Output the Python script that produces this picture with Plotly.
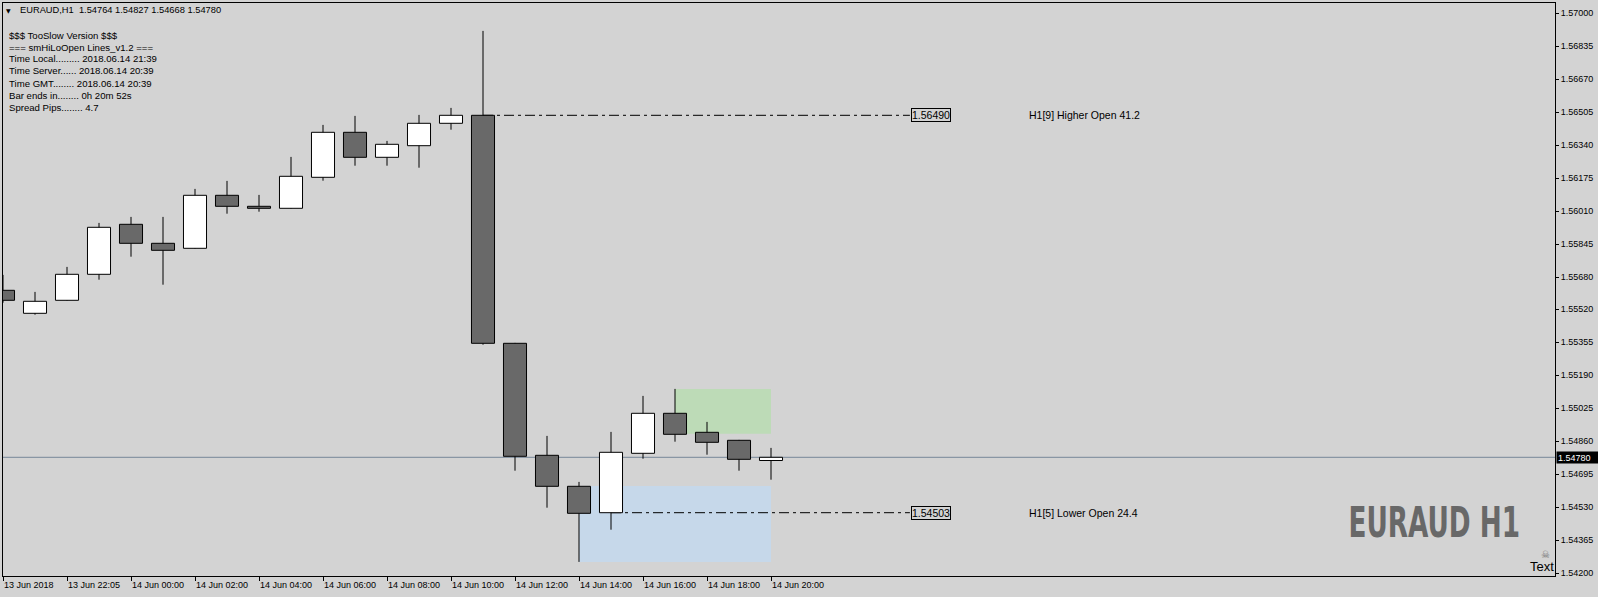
import plotly.graph_objects as go

# ---------------- data ----------------
bar_index = list(range(25))
opens  = [1.55615, 1.55500, 1.55565, 1.55695, 1.55945, 1.55850, 1.55825, 1.56090, 1.56035, 1.56025,
          1.56180, 1.56405, 1.56280, 1.56338, 1.56450, 1.56490, 1.55350, 1.54790, 1.54635, 1.54503,
          1.54800, 1.55000, 1.54905, 1.54865, 1.54764]
highs  = [1.55692, 1.55607, 1.55732, 1.55952, 1.55982, 1.55982, 1.56122, 1.56162, 1.56092, 1.56282,
          1.56442, 1.56487, 1.56362, 1.56492, 1.56527, 1.56912, 1.55352, 1.54887, 1.54657, 1.54907,
          1.55087, 1.55122, 1.54957, 1.54867, 1.54827]
lows   = [1.55553, 1.55493, 1.55563, 1.55668, 1.55783, 1.55643, 1.55823, 1.55998, 1.56008, 1.56023,
          1.56163, 1.56238, 1.56238, 1.56228, 1.56418, 1.55343, 1.54713, 1.54528, 1.54257, 1.54418,
          1.54773, 1.54858, 1.54793, 1.54713, 1.54668]
closes = [1.55565, 1.55560, 1.55695, 1.55930, 1.55850, 1.55815, 1.56090, 1.56035, 1.56025, 1.56185,
          1.56405, 1.56280, 1.56345, 1.56450, 1.56490, 1.55350, 1.54785, 1.54635, 1.54500, 1.54805,
          1.55000, 1.54895, 1.54855, 1.54770, 1.54780]

x_tick_index = [0, 2, 4, 6, 8, 10, 12, 14, 16, 18, 20, 22, 24]
x_tick_labels = ["13 Jun 2018", "13 Jun 22:05", "14 Jun 00:00", "14 Jun 02:00", "14 Jun 04:00",
                 "14 Jun 06:00", "14 Jun 08:00", "14 Jun 10:00", "14 Jun 12:00", "14 Jun 14:00",
                 "14 Jun 16:00", "14 Jun 18:00", "14 Jun 20:00"]
y_tick_values = [1.57000, 1.56835, 1.56670, 1.56505, 1.56340, 1.56175, 1.56010, 1.55845, 1.55680,
                 1.55520, 1.55355, 1.55190, 1.55025, 1.54860, 1.54695, 1.54530, 1.54365, 1.54200]

current_price = 1.54780
higher_open = {"bar": 15, "price": 1.56490, "label": "1.56490", "text": "H1[9] Higher Open 41.2"}
lower_open = {"bar": 19, "price": 1.54503, "label": "1.54503", "text": "H1[5] Lower Open 24.4"}
green_zone = {"bar0": 21, "bar1": 24, "low": 1.54898, "high": 1.55122}
blue_zone = {"bar0": 18, "bar1": 24, "low": 1.54257, "high": 1.54636}

info_header = "EURAUD,H1  1.54764 1.54827 1.54668 1.54780"
info_lines = ["$$$ TooSlow Version $$$", "=== smHiLoOpen Lines_v1.2 ===",
              "Time Local......... 2018.06.14 21:39", "Time Server...... 2018.06.14 20:39",
              "Time GMT........ 2018.06.14 20:39", "Bar ends in........ 0h 20m 52s",
              "Spread Pips........ 4.7"]

# ---------------- styling ----------------
W, H = 1598, 597
ML, MR, MT, MB = 3, 43, 3, 21
BG = "#d3d3d3"
DOWN = "#696969"
FONT = "Liberation Sans, Arial, sans-serif"


def px_x(p):
    return (p - ML) / (W - ML - MR)


def px_y(p):
    return (H - MB - p) / (H - MT - MB)


up = [i for i in bar_index if closes[i] >= opens[i]]
dn = [i for i in bar_index if closes[i] < opens[i]]

fig = go.Figure()

# wicks (upper and lower segments, so they never cross bodies)
wx, wy = [], []
for i in bar_index:
    top = max(opens[i], closes[i])
    bot = min(opens[i], closes[i])
    if highs[i] > top:
        wx += [i, i, None]
        wy += [top, highs[i], None]
    if lows[i] < bot:
        wx += [i, i, None]
        wy += [lows[i], bot, None]
fig.add_trace(go.Scatter(x=wx, y=wy, mode="lines", line=dict(color="black", width=1),
                         hoverinfo="skip", showlegend=False))

for idx, col in ((up, "white"), (dn, DOWN)):
    fig.add_trace(go.Bar(
        x=idx,
        base=[min(opens[i], closes[i]) for i in idx],
        y=[abs(closes[i] - opens[i]) for i in idx],
        width=0.72,
        marker=dict(color=col, line=dict(color="black", width=1)),
        hoverinfo="skip", showlegend=False))

shapes = []
for z, c in ((green_zone, "#bddbb7"), (blue_zone, "#c6d8ea")):
    shapes.append(dict(type="rect", xref="x", yref="y", x0=z["bar0"], x1=z["bar1"],
                       y0=z["low"], y1=z["high"], fillcolor=c, line=dict(width=0), layer="below"))
shapes.append(dict(type="line", xref="paper", yref="y", x0=0, x1=1, y0=current_price, y1=current_price,
                   line=dict(color="#778899", width=1), layer="below"))

LABEL_BAR = 29
TEXT_BAR = 32
annotations = []
for lv in (higher_open, lower_open):
    shapes.append(dict(type="line", xref="x", yref="y", x0=lv["bar"], x1=LABEL_BAR - 0.66,
                       y0=lv["price"], y1=lv["price"],
                       line=dict(color="black", width=1, dash="10px,4px,3px,4px"), layer="below"))
    annotations.append(dict(x=LABEL_BAR, y=lv["price"], xref="x", yref="y", text=lv["label"],
                            showarrow=False, font=dict(family=FONT, size=10.5, color="black"),
                            bordercolor="black", borderwidth=1, borderpad=0, bgcolor=BG,
                            xanchor="center", yanchor="middle"))
    annotations.append(dict(x=TEXT_BAR, y=lv["price"], xref="x", yref="y", text=lv["text"],
                            showarrow=False, font=dict(family=FONT, size=10.5, color="black"),
                            xanchor="left", yanchor="middle"))

# current price tag on the axis
annotations.append(dict(x=1, y=current_price, xref="paper", yref="y", text="1.54780", showarrow=False,
                        font=dict(family=FONT, size=9, color="white"), bgcolor="black",
                        xanchor="left", yanchor="middle", xshift=1, width=40, height=9,
                        align="left", borderpad=1))

# info text at top-left
annotations.append(dict(x=px_x(8), y=px_y(10.5), xref="paper", yref="paper", text="▼",
                        showarrow=False, font=dict(family="DejaVu Sans", size=6, color="black"),
                        xanchor="center", yanchor="middle"))
annotations.append(dict(x=px_x(18), y=px_y(10.5), xref="paper", yref="paper", text=info_header,
                        showarrow=False, font=dict(family=FONT, size=9.3, color="black"),
                        xanchor="left", yanchor="middle"))
for k, line in enumerate(info_lines):
    annotations.append(dict(x=px_x(7), y=px_y(35 + 12 * k), xref="paper", yref="paper", text=line,
                            showarrow=False, font=dict(family=FONT, size=9.6, color="black"),
                            xanchor="left", yanchor="middle"))

# big symbol label
annotations.append(dict(x=px_x(1434), y=px_y(522), xref="paper", yref="paper", text="<b>EURAUD H1</b>",
                        showarrow=False,
                        font=dict(family="DejaVu Sans Condensed, DejaVu Sans, sans-serif",
                                  size=43, color="#686868"),
                        xanchor="center", yanchor="middle"))
annotations.append(dict(x=px_x(1545), y=px_y(554), xref="paper", yref="paper", text="☠",
                        showarrow=False, font=dict(family="DejaVu Sans", size=10, color="#707070"),
                        xanchor="center", yanchor="middle"))
annotations.append(dict(x=px_x(1556), y=px_y(566), xref="paper", yref="paper", text="Text",
                        showarrow=False, font=dict(family=FONT, size=13, color="black"),
                        xanchor="right", yanchor="middle"))

fig.update_layout(
    width=W, height=H,
    margin=dict(l=ML, r=MR, t=MT, b=MB, pad=0),
    paper_bgcolor=BG, plot_bgcolor=BG,
    barmode="overlay", showlegend=False, hovermode=False,
    shapes=shapes, annotations=annotations,
    xaxis=dict(range=[0, 48.5], tickmode="array", tickvals=x_tick_index, ticktext=x_tick_labels,
               ticks="outside", ticklen=4, tickcolor="black", tickwidth=1,
               showline=True, mirror=True, linecolor="black", linewidth=1,
               showgrid=False, zeroline=False, automargin=False,
               ticklabelposition="outside right",
               tickfont=dict(family=FONT, size=9, color="black"), fixedrange=True),
    yaxis=dict(range=[1.541865, 1.570515], side="right", tickmode="array", tickvals=y_tick_values,
               ticktext=["%.5f" % v for v in y_tick_values],
               ticks="outside", ticklen=3, tickcolor="black", tickwidth=1,
               showline=True, mirror=True, linecolor="black", linewidth=1,
               showgrid=False, zeroline=False, automargin=False,
               tickfont=dict(family=FONT, size=9, color="black"), fixedrange=True),
)

post_js = """
document.body.style.margin = '0';
document.body.style.overflow = 'hidden';
var gd = document.getElementById('{plot_id}');
gd.querySelectorAll('text.annotation-text').forEach(function (t) {
  if (t.textContent === 'EURAUD H1') {
    t.style.transformBox = 'fill-box';
    t.style.transformOrigin = 'center';
    t.style.transform = 'scaleX(0.68)';
  }
});
"""

fig.write_html("out.html", config={"displayModeBar": False}, post_script=post_js)
